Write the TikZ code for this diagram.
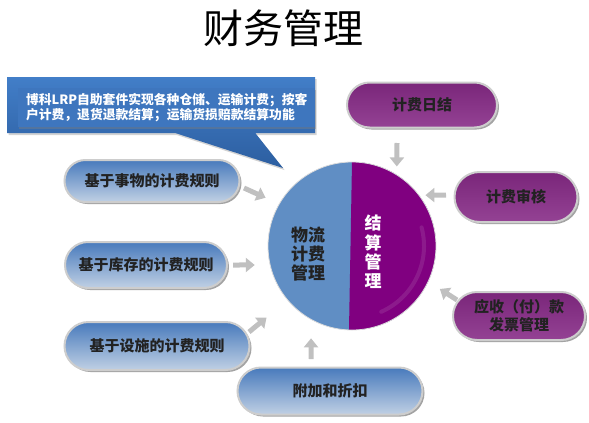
\documentclass[tikz,border=0pt]{standalone}
\usepackage{fontspec}
\setmainfont{Noto Sans CJK SC}
\usepackage{tikz}
\usetikzlibrary{arrows.meta,shapes.misc,shapes.callouts,shadows}
\definecolor{pill_top}{RGB}{72,122,188}
\definecolor{pill_bottom}{RGB}{192,208,228}
\definecolor{plum_top}{RGB}{122,38,122}
\definecolor{plum_bottom}{RGB}{148,66,148}
\definecolor{rim_gray}{RGB}{205,205,205}
\definecolor{shadow_gray}{RGB}{140,140,140}
\definecolor{hub_blue}{RGB}{96,142,196}
\definecolor{hub_plum}{RGB}{128,0,128}
\definecolor{arrow_gray}{RGB}{192,192,192}
\definecolor{note_top}{RGB}{66,126,200}
\definecolor{note_bottom}{RGB}{44,94,160}
\definecolor{note_inner}{RGB}{62,118,190}
\definecolor{dark_text}{RGB}{34,34,34}
\tikzstyle{blue_pill} =
  [ rounded rectangle
  , draw=rim_gray
  , line width=2pt
  , top color=pill_top
  , bottom color=pill_bottom
  , drop shadow={shadow xshift=2pt,shadow yshift=-2pt,fill=shadow_gray,opacity=.8}
  , font=\fontsize{15}{18}\selectfont\bfseries
  , text=dark_text
  , align=center
  , inner sep=0pt
  ]
\tikzstyle{plum_pill} =
  [ blue_pill
  , top color=plum_top
  , bottom color=plum_bottom
  ]
\tikzstyle{hub_text} =
  [ font=\fontsize{17}{19.3}\selectfont\bfseries
  , align=center
  , inner sep=0pt
  ]
\tikzstyle{big_arrow} =
  [ draw=arrow_gray
  , line width=5pt
  , -{Triangle[width=14pt,length=9pt]}
  ]
\def\NoteLineA{博科LRP自助套件实现各种仓储、运输计费；按客}
\def\NoteLineB{户计费，退货退款结算；运输货损赔款结算功能}

\begin{document}
\begin{tikzpicture}[x=1pt,y=-1pt]
    \useasboundingbox (0,0) rectangle (589,423);
    \node (title) at (283,28) {\fontsize{40}{40}\selectfont 财务管理};

    % callout
    \node[rectangle callout, callout absolute pointer={(283,168)}, callout pointer width=80pt,
          minimum width=308pt, minimum height=56pt, inner sep=0pt,
          top color=note_top, bottom color=note_bottom,
          drop shadow={shadow xshift=1.5pt,shadow yshift=-2pt,opacity=.35}] (callout) at (161,105) {};
    \node[fill=note_inner, minimum width=297pt, minimum height=39pt, text width=281pt, inner xsep=8pt,
          align=left, text=white, font=\fontsize{12.8}{15.5}\selectfont\bfseries,
          drop shadow={shadow xshift=1pt,shadow yshift=-1.5pt,opacity=.4}] (note) at (166.5,107.5) {\NoteLineA\\\NoteLineB};

    % hub
    \node[circle, minimum size=168pt, inner sep=0pt, fill=hub_blue, draw=rim_gray!70, line width=.8pt,
          path picture={\fill[hub_plum] (path picture bounding box.north) -- ([xshift=-3pt]path picture bounding box.south)
                        -- (path picture bounding box.south east) -- (path picture bounding box.north east) -- cycle;}] (hub) at (352,246) {};
    \draw[white, opacity=.1, line width=4pt, line cap=round] ([shift={(15:72pt)}]hub.center) arc[start angle=15, end angle=-66, radius=72pt];
    \node[hub_text, text=dark_text] (hub_left)  at (308,254) {物流\\计费\\管理};
    \node[hub_text, text=white]     (hub_right) at (373,252) {结\\算\\管\\理};

    % left side
    \node[blue_pill, minimum width=175pt, minimum height=42pt] (thing_rule)     at (152,181) {基于事物的计费规则};
    \node[blue_pill, minimum width=162pt, minimum height=46pt] (stock_rule)     at (146,265) {基于库存的计费规则};
    \node[blue_pill, minimum width=185pt, minimum height=48pt] (facility_rule)  at (157,346) {基于设施的计费规则};
    \node[blue_pill, minimum width=185pt, minimum height=47pt] (extra_discount) at (330,391) {附加和折扣};

    % right side
    \node[plum_pill, minimum width=150pt, minimum height=45pt] (daily_close)  at (422,105) {计费日结};
    \node[plum_pill, minimum width=123pt, minimum height=50pt] (fee_audit)    at (516,197) {计费审核};
    \node[plum_pill, minimum width=132pt, minimum height=48pt] (invoice_mgmt) at (519,316) {应收（付）款\\发票管理};

    \draw[big_arrow, shorten >=14.6pt] ([shift={(3.5,7)}]thing_rule.east)       -- (hub.150);
    \draw[big_arrow, shorten >=15pt]   ([shift={(5,0)}]stock_rule.east)         -- (hub.193);
    \draw[big_arrow, shorten >=27pt]   ([shift={(-1.5,-14)}]facility_rule.east) -- (hub.220);
    \draw[big_arrow, shorten >=18.5pt] ([shift={(-19,-7.5)}]extra_discount.north) -- (hub.241);
    \draw[big_arrow, shorten >=8pt]    ([shift={(-25,14.5)}]daily_close.south)  -- (hub.58);
    \draw[big_arrow, shorten >=6pt]    ([shift={(-7.5,-2)}]fee_audit.west)      -- (hub.37);
    \draw[big_arrow, shorten >=13.5pt] ([shift={(5,-16)}]invoice_mgmt.west)     -- (hub.-25);
\end{tikzpicture}
\end{document}
